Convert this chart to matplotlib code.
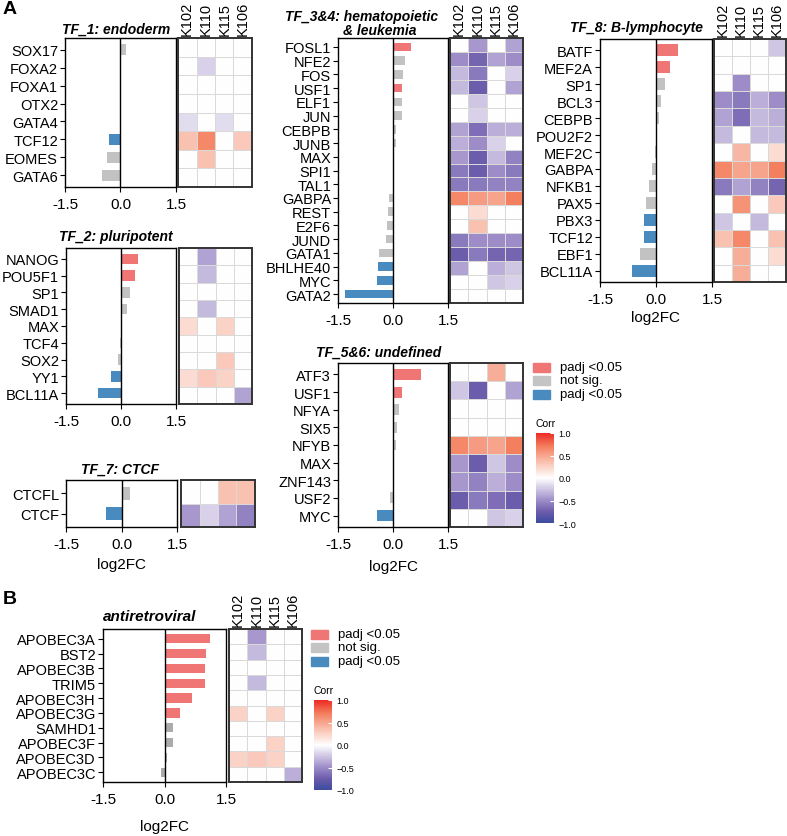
import numpy as np
import matplotlib
matplotlib.use('Agg')
import matplotlib.pyplot as plt
from matplotlib.colors import LinearSegmentedColormap, Normalize
from matplotlib.patches import Rectangle
import matplotlib.cm as cm

plt.rcParams['font.family'] = ['Liberation Sans', 'DejaVu Sans']

# ---- data ----
samples = ['K102', 'K110', 'K115', 'K106']

tf1_genes = ['SOX17', 'FOXA2', 'FOXA1', 'OTX2', 'GATA4', 'TCF12', 'EOMES', 'GATA6']
tf1_lfc = [0.15, 0.01, 0.0, 0.0, 0.0, -0.30, -0.37, -0.51]
tf1_sig = ['ns', 'ns', 'ns', 'ns', 'ns', 'down', 'ns', 'ns']
tf1_corr = [[0, 0, 0, 0], [0, -0.2, 0, 0], [0, 0, 0, 0], [0, 0, 0, 0],
            [-0.15, 0, -0.15, 0], [0.35, 0.65, 0, 0.3], [0, 0.35, 0, 0], [0, 0, 0, 0]]

tf2_genes = ['NANOG', 'POU5F1', 'SP1', 'SMAD1', 'MAX', 'TCF4', 'SOX2', 'YY1', 'BCL11A']
tf2_lfc = [0.45, 0.38, 0.25, 0.15, 0.0, -0.02, -0.07, -0.28, -0.62]
tf2_sig = ['up', 'up', 'ns', 'ns', 'ns', 'ns', 'ns', 'down', 'down']
tf2_corr = [[0, -0.4, 0, 0], [0, -0.3, 0, 0], [0, 0, 0, 0], [0, -0.3, 0, 0],
            [0.2, 0, 0.25, 0], [0, 0, 0, 0], [0, 0, 0.3, 0], [0.2, 0.3, 0.25, 0],
            [0, 0, 0, -0.4]]

tf7_genes = ['CTCFL', 'CTCF']
tf7_lfc = [0.22, -0.42]
tf7_sig = ['ns', 'down']
tf7_corr = [[0, 0, 0.35, 0.35], [-0.45, -0.2, -0.4, -0.55]]

tf34_genes = ['FOSL1', 'NFE2', 'FOS', 'USF1', 'ELF1', 'JUN', 'CEBPB', 'JUNB', 'MAX',
              'SPI1', 'TAL1', 'GABPA', 'REST', 'E2F6', 'JUND', 'GATA1', 'BHLHE40',
              'MYC', 'GATA2']
tf34_lfc = [0.50, 0.32, 0.27, 0.25, 0.25, 0.24, 0.09, 0.08, 0.0, 0.0, 0.0,
            -0.12, -0.15, -0.17, -0.19, -0.39, -0.41, -0.43, -1.31]
tf34_sig = ['up', 'ns', 'ns', 'up', 'ns', 'ns', 'ns', 'ns', 'ns', 'ns', 'ns',
            'ns', 'ns', 'ns', 'ns', 'ns', 'down', 'down', 'down']
tf34_corr = [[0, -0.45, 0, -0.4], [-0.5, -0.7, -0.4, -0.5], [-0.3, -0.6, 0, -0.2],
             [-0.3, -0.75, 0, -0.4], [0, -0.25, 0, 0], [0, -0.2, 0, 0],
             [-0.4, -0.65, -0.35, -0.35], [-0.35, -0.5, -0.2, 0],
             [-0.45, -0.75, -0.3, -0.55], [-0.6, -0.75, -0.5, -0.6],
             [-0.6, -0.6, -0.55, -0.55], [0.65, 0.55, 0.5, 0.7], [0, 0.2, 0, 0],
             [0, 0.35, 0, 0], [-0.6, -0.5, -0.5, -0.5], [-0.75, -0.6, -0.7, -0.7],
             [-0.4, 0, -0.35, -0.25], [0, 0, -0.25, -0.2], [0, 0, 0, 0]]

tf56_genes = ['ATF3', 'USF1', 'NFYA', 'SIX5', 'NFYB', 'MAX', 'ZNF143', 'USF2', 'MYC']
tf56_lfc = [0.76, 0.24, 0.16, 0.12, 0.08, 0.0, 0.0, -0.09, -0.45]
tf56_sig = ['up', 'up', 'ns', 'ns', 'ns', 'ns', 'ns', 'ns', 'down']
tf56_corr = [[0, 0, 0.45, 0], [-0.25, -0.75, 0, -0.4], [0, 0, 0, 0], [0, 0, 0, 0],
             [0.65, 0.55, 0.5, 0.7], [-0.45, -0.75, -0.25, -0.5],
             [-0.45, -0.55, -0.35, -0.5], [-0.75, -0.6, -0.65, -0.75],
             [0, 0, -0.25, -0.2]]

tf8_genes = ['BATF', 'MEF2A', 'SP1', 'BCL3', 'CEBPB', 'POU2F2', 'MEF2C', 'GABPA',
             'NFKB1', 'PAX5', 'PBX3', 'TCF12', 'EBF1', 'BCL11A']
tf8_lfc = [0.60, 0.38, 0.24, 0.13, 0.08, 0.0, -0.04, -0.11, -0.18, -0.28, -0.31,
           -0.31, -0.44, -0.63]
tf8_sig = ['up', 'up', 'ns', 'ns', 'ns', 'ns', 'ns', 'ns', 'ns', 'ns', 'down',
           'down', 'ns', 'down']
tf8_corr = [[0, 0, 0, -0.25], [0, 0, 0, 0], [0, -0.5, 0, 0], [-0.5, -0.6, -0.35, -0.5],
            [-0.4, -0.65, -0.3, -0.35], [-0.3, 0, -0.3, -0.3], [0, 0.4, 0, 0.2],
            [0.65, 0.5, 0.5, 0.7], [-0.6, -0.4, -0.55, -0.7], [0, 0.6, 0, 0.3],
            [-0.25, 0, -0.3, 0], [0.35, 0.65, 0, 0.35], [0, 0.45, 0, 0.2],
            [0, 0.45, 0, 0]]

av_genes = ['APOBEC3A', 'BST2', 'APOBEC3B', 'TRIM5', 'APOBEC3H', 'APOBEC3G',
            'SAMHD1', 'APOBEC3F', 'APOBEC3D', 'APOBEC3C']
av_lfc = [1.11, 1.01, 0.99, 0.99, 0.68, 0.39, 0.21, 0.20, 0.07, -0.08]
av_sig = ['up', 'up', 'up', 'up', 'up', 'up', 'ns', 'ns', 'ns', 'ns']
av_corr = [[0, -0.45, 0, 0], [0, -0.3, 0, 0], [0, 0, 0, 0], [0, -0.3, 0, 0],
           [0, 0, 0, 0], [0.25, 0, 0.25, 0], [0, 0, 0, 0], [0, 0, 0.25, 0],
           [0.25, 0.3, 0.25, 0], [0, 0, 0, -0.35]]

legend_labels = ['padj <0.05', 'not sig.', 'padj <0.05']

# ---- figure ----
W, H = 787, 837
fig = plt.figure(figsize=(W / 100, H / 100), dpi=100)

cmap = LinearSegmentedColormap.from_list(
    'corr', [(0, '#3B4C9E'), (0.12, '#6A5AAB'), (0.25, '#9D8CC8'), (0.5, '#FFFFFF'),
             (0.68, '#F9BFAE'), (0.85, '#F3805F'), (1, '#EE2B24')])
norm = Normalize(-1, 1)
red, blue = '#F07575', '#4A8BBF'


def px_axes(x0, y0, x1, y1):
    return fig.add_axes([x0 / W, 1 - y1 / H, (x1 - x0) / W, (y1 - y0) / H])


def ftext(x, y, s, **kw):
    fig.text(x / W, 1 - y / H, s, **kw)


def panel(genes, lfc, sig, corr, bar_box, heat_box, cols=False, xlab=None,
          grey='#C2C2C2', bh=0.62):
    n = len(genes)
    y = np.arange(n)
    colors = {'up': red, 'ns': grey, 'down': blue}
    ax = px_axes(*bar_box)
    ax.barh(y, lfc, height=bh, color=[colors[s] for s in sig])
    ax.axvline(0, color='black', lw=1)
    ax.set_xlim(-1.5, 1.5)
    ax.set_ylim(n - 1 + 0.65, -0.65)
    ax.set_yticks(y)
    ax.set_yticklabels(genes, fontsize=10.5)
    ax.set_xticks([-1.5, 0, 1.5])
    ax.set_xticklabels(['-1.5', '0.0', '1.5'], fontsize=11)
    ax.tick_params(length=3.5, width=0.8, pad=1.5)
    ax.tick_params(axis='x', pad=4)
    for s in ax.spines.values():
        s.set_linewidth(1)
    if xlab is not None:
        ftext((bar_box[0] + bar_box[2]) / 2, xlab, 'log2FC', fontsize=11,
              ha='center', va='center')

    hx = px_axes(*heat_box)
    hx.pcolormesh(np.array(corr), cmap=cmap, norm=norm,
                  edgecolors='#D9D9D9', linewidth=0.5)
    hx.set_xlim(0, 4)
    hx.set_ylim(n, 0)
    hx.set_yticks([])
    if cols:
        hx.xaxis.tick_top()
        hx.set_xticks(np.arange(4) + 0.5)
        hx.set_xticklabels(samples, rotation=90, fontsize=10.5)
        hx.tick_params(length=0, pad=2)
    else:
        hx.set_xticks([])
    for s in hx.spines.values():
        s.set_linewidth(1.4)
        s.set_color('#333333')


def legend(x, y):
    for i, (lab, c) in enumerate(zip(legend_labels, [red, '#C4C4C4', blue])):
        yy = y + i * 13.5
        fig.add_artist(Rectangle((x / W, 1 - (yy + 4.5) / H), 17 / W, 9 / H,
                                 transform=fig.transFigure, color=c))
        ftext(x + 27, yy, lab, fontsize=9.5, va='center')
    ftext(x + 2, y + 56, 'Corr', fontsize=7.5, va='center')
    cax = px_axes(x + 3, y + 66, x + 21, y + 156)
    cb = fig.colorbar(cm.ScalarMappable(norm=norm, cmap=cmap), cax=cax)
    cb.outline.set_visible(False)
    cb.set_ticks([-1, -0.5, 0, 0.5, 1])
    cb.set_ticklabels(['\u22121.0', '\u22120.5', '0.0', '0.5', '1.0'])
    cax.tick_params(length=3, color='white', direction='in', labelsize=6.5, pad=3)


panel(tf1_genes, tf1_lfc, tf1_sig, tf1_corr, (65, 39, 176, 188), (178, 39, 252, 188), cols=True)
ftext(116, 30, 'TF_1: endoderm', fontsize=10, weight='bold', style='italic', ha='center', va='center')

panel(tf2_genes, tf2_lfc, tf2_sig, tf2_corr, (66, 249, 176, 405), (179, 249, 252, 405))
ftext(116, 237, 'TF_2: pluripotent', fontsize=10, weight='bold', style='italic', ha='center', va='center')

panel(tf7_genes, tf7_lfc, tf7_sig, tf7_corr, (66, 481, 177, 528), (181, 481, 255, 528), xlab=565)
ftext(120, 470, 'TF_7: CTCF', fontsize=10, weight='bold', style='italic', ha='center', va='center')

panel(tf34_genes, tf34_lfc, tf34_sig, tf34_corr, (338, 39, 448, 304), (450, 39, 523, 304), cols=True)
ftext(362, 17, 'TF_3&4: hematopoietic', fontsize=10, weight='bold', style='italic', ha='center', va='center')
ftext(380, 31, '& leukemia', fontsize=10, weight='bold', style='italic', ha='center', va='center')

panel(tf56_genes, tf56_lfc, tf56_sig, tf56_corr, (338, 364, 448, 528), (450, 364, 523, 528), xlab=567)
ftext(379, 353, 'TF_5&6: undefined', fontsize=10, weight='bold', style='italic', ha='center', va='center')

panel(tf8_genes, tf8_lfc, tf8_sig, tf8_corr, (600, 40, 712, 283), (714, 40, 786, 283),
      cols=True, xlab=318, bh=0.7)
ftext(636, 28, 'TF_8: B-lymphocyte', fontsize=10, weight='bold', style='italic', ha='center', va='center')

panel(av_genes, av_lfc, av_sig, av_corr, (103, 630, 226, 783), (229, 630, 302, 783),
      cols=True, xlab=827, grey='#ABABAB')
ftext(150, 617, 'antiretroviral', fontsize=11, weight='bold', style='italic', ha='center', va='center')

legend(533, 368)
legend(311, 635)

ftext(3, 10, 'A', fontsize=14, weight='bold', va='center')
ftext(3, 599, 'B', fontsize=14, weight='bold', va='center')

fig.savefig('out.png', dpi=100)
